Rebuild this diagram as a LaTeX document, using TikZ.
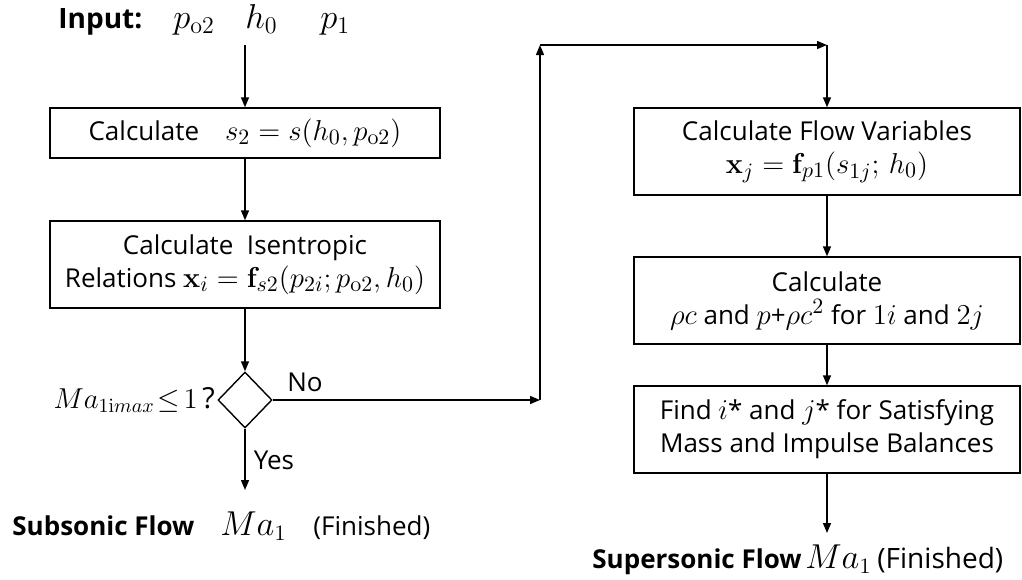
\documentclass[tikz,border=0pt]{standalone}
\usepackage[no-math]{fontspec}
\setmainfont{Open Sans}
\usetikzlibrary{shapes.geometric,arrows.meta}

% math a little larger than the box text
\newcommand{\mth}[1]{{\fontsize{15.5}{16.5}\selectfont$#1$}}

\tikzset{
    stepbox/.style={draw, line width=0.7pt, align=center, inner sep=0pt, minimum width=195pt, minimum height=43.5pt},
    decide/.style={draw, diamond, line width=0.7pt, inner sep=0pt, minimum width=27pt, minimum height=28pt},
    flow/.style={line width=0.7pt, -{Triangle[length=5pt,width=4pt]}},
    lbl/.style={anchor=base west, inner sep=0pt},
    bigmath/.style={font=\fontsize{17}{20}\selectfont}
}

\begin{document}
\begin{tikzpicture}[x=0.5pt, y=-0.5pt, every node/.style={font=\fontsize{13}{16.5}\selectfont}]
                    % Canvas
                    \useasboundingbox (0,0) rectangle (1022,579);

                    % Input line
                    \node[lbl, font=\fontsize{14}{17}\selectfont] (inlbl) at (58,28) {\bfseries Input:};
                    \node[lbl, bigmath] (inpo) at (173,28) {$p_{\mathrm{o}2}$};
                    \node[lbl, bigmath] (inh) at (245,28) {$h_0$};
                    \node[lbl, bigmath] (inp) at (320,28) {$p_1$};
                    \coordinate (feed) at (245,45);

                    % Left column
                    \node[stepbox, minimum height=25pt] (entropy) at (245,133) {Calculate\quad \mth{s_2 = s(h_0,p_{\mathrm{o}2})}};
                    \node[stepbox] (isen) at (245,264.5) {Calculate\ \ Isentropic\\Relations \mth{\mathbf{x}_i = \mathbf{f}_{s2}(p_{2i};p_{\mathrm{o}2},h_0)}};
                    \node[decide] (check) at (245,400) {};
                    \node[anchor=east, inner sep=1pt, font=\fontsize{14.5}{18}\selectfont] (cond) at (check.west) {$Ma_{1\mathrm{i}max}\!\leq\! 1\,$?};
                    \node (no) at (305,382) {No};
                    \node (yes) at (274,460) {Yes};
                    \coordinate (subend) at (245,490);

                    % Right column
                    \node[stepbox, minimum width=193pt] (flowvar) at (827,151.5) {Calculate Flow Variables\\\mth{\mathbf{x}_j = \mathbf{f}_{p1}(s_{1j};\, h_0)}};
                    \node[stepbox, minimum width=193pt] (impulse) at (827,300.5) {Calculate\\\mth{\rho c} and \mth{p}+\mth{\rho c^2} for \mth{1i} and \mth{2j}};
                    \node[stepbox, minimum width=193pt] (balance) at (827,429.5) {Find \mth{i}* and \mth{j}* for Satisfying\\Mass and Impulse Balances};
                    \coordinate (supend) at (827,533);

                    % Detour for "No"
                    \coordinate (turn) at (540,400);
                    \coordinate (top) at (540,45);
                    \coordinate (over) at (827,45);

                    % Connectors
                    \draw[flow] (feed) -- (entropy.north);
                    \draw[flow] (entropy) -- (isen);
                    \draw[flow] (isen) -- (check);
                    \draw[flow] (check.south) -- (subend);
                    \draw[flow] (check.east) -- (turn);
                    \draw[flow] (turn) -- (top);
                    \draw[flow] (top) -- (over);
                    \draw[flow] (over) -- (flowvar.north);
                    \draw[flow] (flowvar) -- (impulse);
                    \draw[flow] (impulse) -- (balance);
                    \draw[flow] (balance.south) -- (supend);

                    % Results
                    \node[lbl] (sub) at (12,535) {\bfseries Subsonic Flow};
                    \node[lbl, font=\fontsize{16}{19}\selectfont] (subma) at (220,535) {$Ma_1$};
                    \node[lbl] (subdone) at (313,535) {(Finished)};
                    \node[lbl] (sup) at (592,568) {\bfseries Supersonic Flow};
                    \node[lbl, font=\fontsize{16}{19}\selectfont] (supma) at (805,568) {$Ma_1$};
                    \node[lbl, font=\fontsize{14}{17}\selectfont] (supdone) at (877,568) {(Finished)};
\end{tikzpicture}
\end{document}
